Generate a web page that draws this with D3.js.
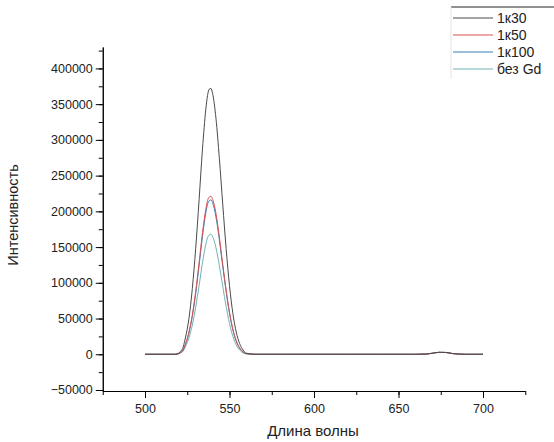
<!DOCTYPE html>
<html>
<head>
<meta charset="utf-8">
<title>Спектры</title>
<style>
body { margin: 0; background: #fff; }
svg { display: block; font-family: "Liberation Sans", Arial, sans-serif; }
.axis path, .axis line { stroke: #000; }
.axis text { fill: #222; font-size: 12px; }
</style>
<script src="https://d3js.org/d3.v7.min.js"></script>
</head>
<body>
<div id="chart"></div>
<script>
// длина волны, нм
var wavelength = [500, 510, 518, 522, 524, 526, 528, 530, 532, 534, 536, 537, 538, 539, 540, 542, 544, 546, 548, 550, 552, 554, 556, 558, 560, 565, 580, 600, 620, 640, 660, 666, 670, 674, 678, 682, 686, 690, 700];

var k30 =  [0, 0, 0, 7000, 24000, 50000, 92000, 148000, 216000, 287000, 343000, 362000, 371000, 372000, 365000, 330000, 274000, 210000, 148000, 96000, 57000, 31000, 15000, 6000, 1500, 0, 0, 0, 0, 0, 0, 300, 1500, 2800, 2600, 1000, 200, 0, 0];
var k50 =  [0, 0, 0, 4500, 15000, 31000, 55000, 88000, 128000, 170000, 203000, 215000, 220000, 221000, 217000, 197000, 164000, 126000, 90000, 59000, 35000, 19000, 9000, 3500, 1000, 0, 0, 0, 0, 0, 0, 300, 1400, 2700, 2500, 1000, 200, 0, 0];
var k100 = [0, 0, 0, 4000, 14000, 30000, 53000, 85000, 124000, 165000, 198000, 210000, 215000, 216000, 212000, 192000, 160000, 123000, 88000, 57000, 34000, 18000, 8500, 3000, 800, 0, 0, 0, 0, 0, 0, 300, 1400, 2700, 2500, 1000, 200, 0, 0];
var noGd = [0, 0, 0, 3000, 11000, 23000, 41000, 66000, 96000, 128000, 154000, 163000, 167000, 168000, 165000, 149000, 124000, 95000, 67000, 43000, 25000, 13000, 6000, 2000, 500, 0, 0, 0, 0, 0, 0, 300, 1300, 2600, 2400, 900, 200, 0, 0];

var seriesNames = ["1к30", "1к50", "1к100", "без Gd"];
var seriesColors = ["#4a4a4a", "#d9534f", "#3b7fb8", "#6fb3b5"];
var seriesValues = [k30, k50, k100, noGd];

var xTicks = [500, 550, 600, 650, 700];
var yTicks = [-50000, 0, 50000, 100000, 150000, 200000, 250000, 300000, 350000, 400000];

var width = 554, height = 442;

var svg = d3.select("#chart").append("svg")
  .attr("width", width).attr("height", height);

var x = d3.scaleLinear().domain([475, 725]).range([102.75, 525.25]);
var y = d3.scaleLinear().domain([-51400, 430000]).range([391, 47]);

// малые деления
var xMinor = d3.range(475, 726, 25);
var yMinor = d3.range(-50000, 425001, 25000);

svg.append("g").attr("class", "axis")
  .attr("transform", "translate(0," + y.range()[0] + ")")
  .call(d3.axisBottom(x).tickValues(xMinor).tickSize(4).tickFormat("").tickSizeOuter(0));
var gx = svg.append("g").attr("class", "axis")
  .attr("transform", "translate(0," + y.range()[0] + ")")
  .call(d3.axisBottom(x).tickValues(xTicks).tickSize(7).tickSizeOuter(0).tickPadding(6));
gx.selectAll("text").style("font-size", "12.5px");

svg.append("g").attr("class", "axis")
  .attr("transform", "translate(" + x.range()[0] + ",0)")
  .call(d3.axisLeft(y).tickValues(yMinor).tickSize(4).tickFormat("").tickSizeOuter(0));
var gy = svg.append("g").attr("class", "axis")
  .attr("transform", "translate(" + x.range()[0] + ",0)")
  .call(d3.axisLeft(y).tickValues(yTicks).tickSize(7).tickSizeOuter(0).tickPadding(3).tickFormat(d3.format("d")));
gy.selectAll("text").style("font-size", "12.5px");

var line = d3.line()
  .x(function(d) { return x(d[0]); })
  .y(function(d) { return y(d[1]); })
  .curve(d3.curveMonotoneX);

// рисуем в обратном порядке, чтобы 1к30 был сверху
for (var s = seriesValues.length - 1; s >= 0; s--) {
  var pts = wavelength.map(function(w, i) { return [w, seriesValues[s][i]]; });
  svg.append("path")
    .datum(pts)
    .attr("fill", "none")
    .attr("stroke", seriesColors[s])
    .attr("stroke-width", 1)
    .attr("d", line);
}

// подписи осей
svg.append("text")
  .attr("transform", "translate(18,215) rotate(-90)")
  .attr("text-anchor", "middle")
  .style("font-size", "14.5px").style("fill", "#222")
  .text("Интенсивность");
svg.append("text")
  .attr("x", 313).attr("y", 436)
  .attr("text-anchor", "middle")
  .style("font-size", "15px").style("fill", "#222")
  .text("Длина волны");

// легенда
var leg = svg.append("g").attr("transform", "translate(451,7)");
leg.append("line").attr("x1", 0).attr("x2", 110).attr("y1", 0).attr("y2", 0)
  .attr("stroke", "#222").attr("stroke-width", 1);
leg.append("line").attr("x1", 0).attr("x2", 0).attr("y1", 0).attr("y2", 72)
  .attr("stroke", "#e4e4e4").attr("stroke-width", 1);
seriesNames.forEach(function(name, i) {
  var yy = 11 + i * 17;
  leg.append("line").attr("x1", 2).attr("x2", 42).attr("y1", yy).attr("y2", yy)
    .attr("stroke", seriesColors[i]).attr("stroke-width", 1);
  leg.append("text").attr("x", 46).attr("y", yy + 5)
    .style("font-size", "14px").style("fill", "#222")
    .text(name);
});
</script>
</body>
</html>
